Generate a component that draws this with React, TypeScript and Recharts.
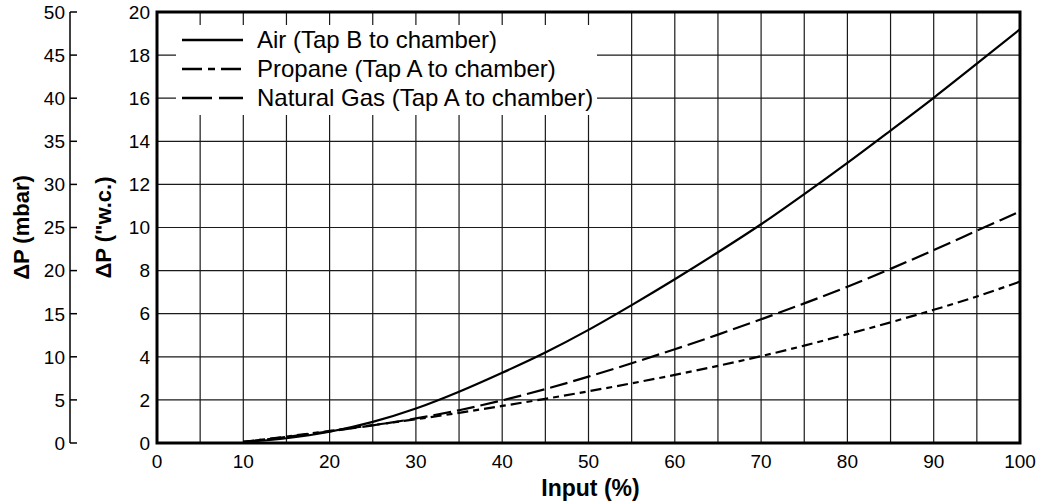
import React from 'react';
import { LineChart, Line, XAxis, YAxis, CartesianGrid, ReferenceArea, Label } from 'recharts';

const inputPct = [10, 15, 20, 25, 30, 35, 40, 45, 50, 55, 60, 65, 70, 75, 80, 85, 90, 95, 100];
const airValues = [0.05, 0.22, 0.52, 0.98, 1.6, 2.38, 3.26, 4.2, 5.25, 6.4, 7.6, 8.85, 10.15, 11.55, 13.0, 14.5, 16.02, 17.6, 19.2];
const propaneValues = [0.05, 0.3, 0.56, 0.83, 1.1, 1.4, 1.72, 2.05, 2.4, 2.77, 3.16, 3.58, 4.03, 4.52, 5.05, 5.6, 6.18, 6.8, 7.49];
const naturalGasValues = [0.05, 0.28, 0.54, 0.82, 1.14, 1.52, 1.98, 2.5, 3.08, 3.7, 4.35, 5.03, 5.74, 6.48, 7.25, 8.08, 8.95, 9.85, 10.75];

const xTicks = [0, 5, 10, 15, 20, 25, 30, 35, 40, 45, 50, 55, 60, 65, 70, 75, 80, 85, 90, 95, 100];
const wcTicks = [0, 2, 4, 6, 8, 10, 12, 14, 16, 18, 20];
const mbarTicks = [0, 5, 10, 15, 20, 25, 30, 35, 40, 45, 50];

const seriesNames = ['Air (Tap B to chamber)', 'Propane (Tap A to chamber)', 'Natural Gas (Tap A to chamber)'];

const data = inputPct.map((p, i) => ({
  pct: p,
  air: airValues[i],
  propane: propaneValues[i],
  ng: naturalGasValues[i],
}));

const FONT = '"Liberation Sans", Arial, Helvetica, sans-serif';

const MbarTick = (props: any) => {
  const { x, y, payload } = props;
  return (
    <g>
      <line x1={x + 5} x2={x + 12} y1={y} y2={y} stroke="#000" strokeWidth={1.5} />
      <text x={x} y={y} dy="0.36em" textAnchor="end" fontSize={19} fontFamily={FONT} fill="#000">
        {payload.value}
      </text>
    </g>
  );
};

const legendDash = ['', '20 6 7 6', '30 7'];

export default function App() {
  return (
    <div style={{ position: 'relative', width: 1040, height: 503, background: '#fff' }}>
      <style>{`body{margin:0;background:#fff}`}</style>
      <LineChart width={1040} height={503} data={data} margin={{ top: 12, right: 20, left: 0, bottom: 0 }}>
        <CartesianGrid yAxisId="in" stroke="#1a1a1a" strokeWidth={1.2} strokeOpacity={1} />
        <XAxis
          dataKey="pct"
          type="number"
          domain={[0, 100]}
          ticks={xTicks}
          interval={0}
          tickFormatter={(v: number) => (v % 10 === 0 ? String(v) : '')}
          axisLine={false}
          tickLine={false}
          tickSize={0}
          tickMargin={12}
          height={60}
          tick={{ fontSize: 19, fontFamily: FONT, fill: '#000' }}
        >
          <Label
            content={(p: any) => {
              const vb = p.viewBox || {};
              return (
                <text x={vb.x + vb.width / 2 + 2} y={vb.y + 53} textAnchor="middle" fontSize={23} fontWeight="bold" fontFamily={FONT} fill="#000">
                  Input (%)
                </text>
              );
            }}
          />
        </XAxis>
        <YAxis
          yAxisId="in"
          orientation="left"
          type="number"
          domain={[0, 20]}
          ticks={wcTicks}
          interval={0}
          width={87}
          axisLine={false}
          tickLine={false}
          tickSize={0}
          tickMargin={7}
          tick={{ fontSize: 19, fontFamily: FONT, fill: '#000' }}
        >
          <Label
            content={(p: any) => {
              const vb = p.viewBox || {};
              const cx = vb.x + 33;
              const cy = vb.y + vb.height / 2;
              return (
                <text x={cx} y={cy} transform={`rotate(-90 ${cx} ${cy})`} textAnchor="middle" dominantBaseline="central" fontSize={22} fontWeight="bold" fontFamily={FONT} fill="#000">
                  ΔP ("w.c.)
                </text>
              );
            }}
          />
        </YAxis>
        <YAxis
          yAxisId="mbar"
          orientation="left"
          type="number"
          domain={[0, 50]}
          allowDataOverflow={true}
          ticks={mbarTicks}
          interval={0}
          width={70}
          axisLine={{ stroke: '#000', strokeWidth: 1.5 }}
          tickLine={false}
          tickSize={0}
          tickMargin={5}
          tick={<MbarTick />}
        >
          <Label
            content={(p: any) => {
              const vb = p.viewBox || {};
              const cx = vb.x + 21;
              const cy = vb.y + vb.height / 2;
              return (
                <text x={cx} y={cy} transform={`rotate(-90 ${cx} ${cy})`} textAnchor="middle" dominantBaseline="central" fontSize={22} fontWeight="bold" fontFamily={FONT} fill="#000">
                  ΔP (mbar)
                </text>
              );
            }}
          />
        </YAxis>
        <ReferenceArea yAxisId="in" x1={0} x2={100} y1={0} y2={20} fill="none" stroke="#000" strokeWidth={3} ifOverflow="visible" />
        <Line yAxisId="in" type="monotone" dataKey="air" name={seriesNames[0]} stroke="#000" strokeWidth={2.2} dot={false} isAnimationActive={false} />
        <Line yAxisId="in" type="monotone" dataKey="propane" name={seriesNames[1]} stroke="#000" strokeWidth={2.2} strokeDasharray="11 5 6 5" dot={false} isAnimationActive={false} />
        <Line yAxisId="in" type="monotone" dataKey="ng" name={seriesNames[2]} stroke="#000" strokeWidth={2.2} strokeDasharray="18 6" dot={false} isAnimationActive={false} />
      </LineChart>
      <div
        style={{
          position: 'absolute',
          left: 176,
          top: 25,
          width: 421,
          height: 90,
          background: '#fff',
          fontFamily: FONT,
          fontSize: 24,
          color: '#000',
        }}
      >
        {seriesNames.map((name, i) => (
          <div key={name} style={{ height: 29, lineHeight: '29px', display: 'flex', alignItems: 'center', whiteSpace: 'nowrap' }}>
            <svg width={81} height={29} style={{ flex: 'none' }}>
              <line x1={6} x2={67} y1={15} y2={15} stroke="#000" strokeWidth={2.5} strokeDasharray={legendDash[i] || undefined} />
            </svg>
            <span>{name}</span>
          </div>
        ))}
      </div>
    </div>
  );
}
